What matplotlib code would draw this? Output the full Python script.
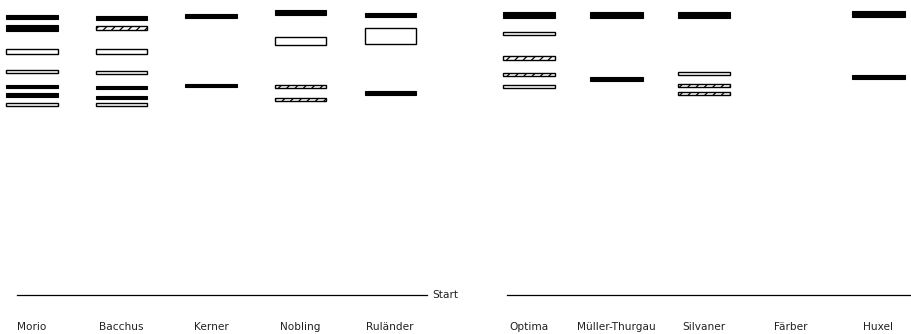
import matplotlib
matplotlib.use("Agg")
import matplotlib.pyplot as plt

# lanes of the two gels (left / right panel)
left_lanes = ["Morio", "Bacchus", "Kerner", "Nobling", "Ruländer"]
right_lanes = ["Optima", "Müller-Thurgau", "Silvaner", "Färber", "Huxel"]

# bands per lane: migration distance from start, band thickness, kind
morio_pos = [278, 267, 243.5, 223.5, 208.5, 200, 191]
morio_h = [4, 6, 5, 3, 3, 4, 3]
morio_kind = ["solid", "solid", "open", "open", "solid", "solid", "open"]

bacchus_pos = [277, 267, 243.5, 222.5, 208, 197.5, 190.5]
bacchus_h = [4, 4, 5, 3, 3, 3, 3]
bacchus_kind = ["solid", "hatch", "open", "open", "solid", "solid", "open"]

kerner_pos = [279, 209.5]
kerner_h = [4, 3]
kerner_kind = ["solid", "solid"]

nobling_pos = [282.5, 254, 209, 195.5]
nobling_h = [5, 8, 3, 3]
nobling_kind = ["solid", "open", "hatch", "hatch"]

rulaender_pos = [280, 259, 202.5]
rulaender_h = [4, 16, 4]
rulaender_kind = ["solid", "open", "solid"]

optima_pos = [280, 261.5, 237, 220.5, 208.5]
optima_h = [6, 3, 4, 3, 3]
optima_kind = ["solid", "open", "hatch", "hatch", "open"]

mt_pos = [280, 216]
mt_h = [6, 4]
mt_kind = ["solid", "solid"]

silvaner_pos = [280, 221.5, 209.5, 201.5]
silvaner_h = [6, 3, 3, 3]
silvaner_kind = ["solid", "open", "hatch", "hatch"]

faerber_pos = []
faerber_h = []
faerber_kind = []

huxel_pos = [281, 218]
huxel_h = [6, 4]
huxel_kind = ["solid", "solid"]

left_bands = [
    (morio_pos, morio_h, morio_kind),
    (bacchus_pos, bacchus_h, bacchus_kind),
    (kerner_pos, kerner_h, kerner_kind),
    (nobling_pos, nobling_h, nobling_kind),
    (rulaender_pos, rulaender_h, rulaender_kind),
]
right_bands = [
    (optima_pos, optima_h, optima_kind),
    (mt_pos, mt_h, mt_kind),
    (silvaner_pos, silvaner_h, silvaner_kind),
    (faerber_pos, faerber_h, faerber_kind),
    (huxel_pos, huxel_h, huxel_kind),
]

plt.rcParams["hatch.linewidth"] = 0.9
plt.rcParams["font.family"] = ["DejaVu Sans"]

W, H = 911, 334
fig = plt.figure(figsize=(W / 100, H / 100), dpi=100)
fig.patch.set_facecolor("white")

ax_l = fig.add_axes([0, 0, 460 / W, 1])
ax_r = fig.add_axes([460 / W, 0, 451 / W, 1])


def draw_gel(ax, names, bands, xlim, line_span, band_w):
    ax.set_xlim(*xlim)
    ax.set_ylim(-39, 295)
    ax.axis("off")
    for i, (pos, hgt, kind) in enumerate(bands):
        for p, h, k in zip(pos, hgt, kind):
            if k == "solid":
                ax.bar(i, h, bottom=p - h / 2, width=band_w, color="black",
                       edgecolor="black", linewidth=0.8)
            elif k == "open":
                ax.bar(i, h, bottom=p - h / 2, width=band_w, color="white",
                       edgecolor="black", linewidth=1.0)
            else:
                ax.bar(i, h, bottom=p - h / 2, width=band_w, color="white",
                       edgecolor="black", linewidth=1.0, hatch="////")
    ax.plot(line_span, [0, 0], color="black", linewidth=0.9)
    for i, name in enumerate(names):
        ax.text(i, -35.5, name, ha="center", va="baseline", fontsize=7.6,
                color="#222222")


draw_gel(ax_l, left_lanes, left_bands, (-0.3575, 4.782), [-0.17, 4.41], 0.57)
draw_gel(ax_r, right_lanes, right_bands, (-0.793, 4.373), [-0.25, 4.373], 0.6)
ax_l.text(4.47, 0, "Start", ha="left", va="center", fontsize=7.6,
          color="#222222")

fig.savefig("out.png", dpi=100, facecolor="white")
